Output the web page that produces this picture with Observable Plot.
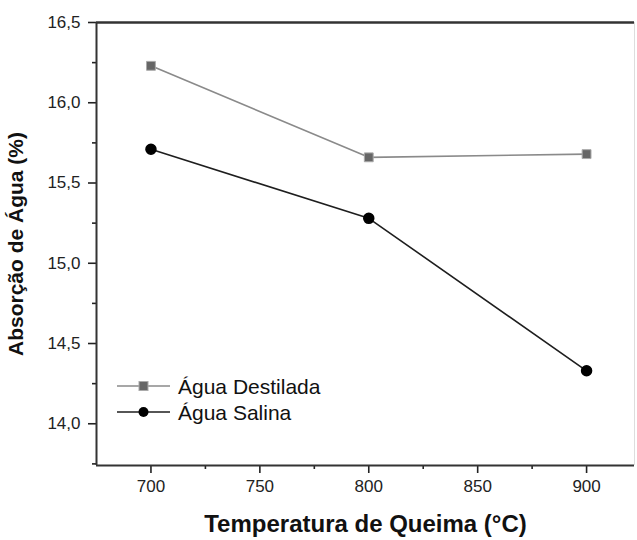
<!DOCTYPE html>
<html>
<head>
<meta charset="utf-8">
<script src="https://cdn.jsdelivr.net/npm/d3@7"></script>
<script src="https://cdn.jsdelivr.net/npm/@observablehq/plot@0.6"></script>
<style>
  html, body { margin: 0; padding: 0; background: #fff; }
  #wrap { position: relative; width: 637px; height: 540px; font-family: "Liberation Sans", Arial, sans-serif; }
  #legend { position: absolute; left: 0; top: 0; pointer-events: none; }
</style>
</head>
<body>
<div id="wrap"></div>
<script>
const temperatures = [700, 800, 900];
const destilada = [16.23, 15.66, 15.68];
const salina = [15.71, 15.28, 14.33];
const seriesNames = ["Água Destilada", "Água Salina"];
const xTicks = [700, 750, 800, 850, 900];
const xMinorTicks = [725, 775, 825, 875];
const yTicks = [14.0, 14.5, 15.0, 15.5, 16.0, 16.5];
const yMinorTicks = [13.75, 14.25, 14.75, 15.25, 15.75, 16.25];
const xDomain = [675, 922];
const yDomain = [13.74, 16.5];

const dataD = temperatures.map((t, i) => ({t, v: destilada[i]}));
const dataS = temperatures.map((t, i) => ({t, v: salina[i]}));
const comma = d => d.toFixed(1).replace(".", ",");

const chart = Plot.plot({
  width: 637,
  height: 540,
  marginLeft: 96,
  marginRight: 3,
  marginTop: 22,
  marginBottom: 75,
  style: {fontFamily: "'Liberation Sans', Arial, sans-serif", fontSize: "17px", color: "#222", background: "#fff"},
  x: {domain: xDomain},
  y: {domain: yDomain},
  marks: [
    Plot.axisY({ticks: yTicks, tickSize: 8, tickPadding: 8, tickFormat: comma, label: null, stroke: "#222", strokeWidth: 1.6, strokeOpacity: 1, fontSize: 17, fill: "#222"}),
    Plot.axisY({ticks: yMinorTicks, tickSize: 4, tickFormat: () => "", label: null, stroke: "#222", strokeWidth: 1.6, strokeOpacity: 1}),
    Plot.axisX({ticks: xTicks, tickSize: 8, tickPadding: 6, tickFormat: d => String(d), label: null, stroke: "#222", strokeWidth: 1.6, strokeOpacity: 1, fontSize: 17, fill: "#222"}),
    Plot.axisX({ticks: xMinorTicks, tickSize: 4, tickFormat: () => "", label: null, stroke: "#222", strokeWidth: 1.6, strokeOpacity: 1}),
    Plot.ruleX([xDomain[0]], {stroke: "#333", strokeWidth: 2}),
    Plot.ruleX([xDomain[1]], {stroke: "#ddd", strokeWidth: 1}),
    Plot.ruleY([yDomain[0]], {stroke: "#333", strokeWidth: 2}),
    Plot.ruleY([yDomain[1]], {stroke: "#333", strokeWidth: 2.5}),
    Plot.line(dataD, {x: "t", y: "v", stroke: "#8a8a8a", strokeWidth: 1.6}),
    Plot.line(dataS, {x: "t", y: "v", stroke: "#1e1e1e", strokeWidth: 1.6}),
    Plot.dot(dataD, {x: "t", y: "v", symbol: "square", r: 5, fill: "#666", stroke: "#aaa", strokeWidth: 1}),
    Plot.dot(dataS, {x: "t", y: "v", symbol: "circle", r: 5, fill: "#000", stroke: "#000"}),
    Plot.text(["Absorção de Água (%)"], {frameAnchor: "left", textAnchor: "middle", rotate: -90, dx: -80, fontSize: 21, fontWeight: "bold", fill: "#111"}),
    Plot.text(["Temperatura de Queima (°C)"], {frameAnchor: "bottom", textAnchor: "middle", dy: 59, fontSize: 24, fontWeight: "bold", fill: "#111", lineAnchor: "middle"})
  ]
});
document.getElementById("wrap").appendChild(chart);

// Legend overlay
const lg = d3.create("svg").attr("id", "legend").attr("width", 637).attr("height", 540)
  .attr("font-family", "'Liberation Sans', Arial, sans-serif");
const items = [
  {name: seriesNames[0], stroke: "#8a8a8a", symbol: "square"},
  {name: seriesNames[1], stroke: "#1e1e1e", symbol: "circle"}
];
items.forEach((it, i) => {
  const y = 386 + i * 26;
  const g = lg.append("g");
  g.append("line").attr("x1", 117).attr("x2", 170).attr("y1", y).attr("y2", y)
    .attr("stroke", it.stroke).attr("stroke-width", 1.6);
  if (it.symbol === "square") {
    g.append("rect").attr("x", 139).attr("y", y - 4.5).attr("width", 9).attr("height", 9)
      .attr("fill", "#666").attr("stroke", "#aaa");
  } else {
    g.append("circle").attr("cx", 143.5).attr("cy", y).attr("r", 5).attr("fill", "#000");
  }
  g.append("text").attr("x", 178).attr("y", y).attr("dy", "0.36em")
    .attr("font-size", 21).attr("fill", "#111").text(it.name);
});
document.getElementById("wrap").appendChild(lg.node());
</script>
</body>
</html>
